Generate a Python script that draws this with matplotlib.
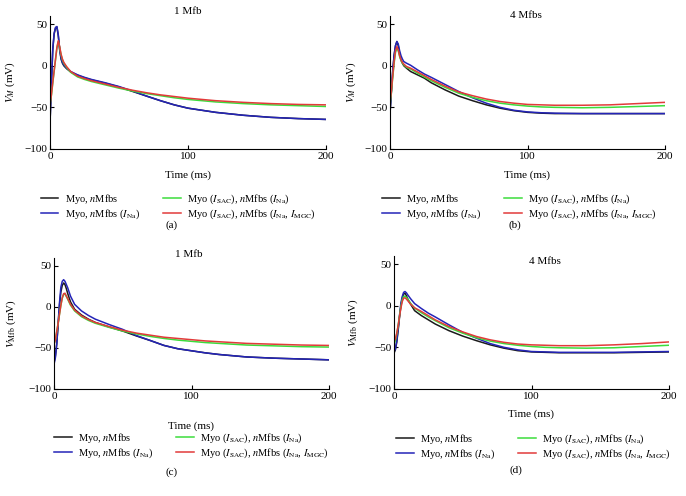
import matplotlib
matplotlib.use("Agg")
import matplotlib.pyplot as plt

plt.rcParams['font.family'] = ['Liberation Serif', 'DejaVu Serif']
plt.rcParams['mathtext.fontset'] = 'stix'

# time samples (ms)
t = [0, 1, 2, 3, 4, 5, 6, 7, 8, 9, 10, 12, 15, 20, 25, 30, 40, 50, 60, 70,
     80, 90, 100, 110, 120, 140, 160, 180, 200]

# (a) V_M, 1 Mfb
a_black = [-69, -23, 19, 38, 45, 46.5, 36, 19, 8, 3, 0, -3.5, -7.5, -11.5, -14.5, -17, -21, -25.5, -31, -36.5,
           -42, -47, -51, -53.5, -56, -59.5, -62, -63.5, -64.5]
a_blue = [-69, -22, 20, 39, 46, 47, 37, 20, 9, 4, 1, -3, -7, -11, -14, -16.5, -20.5, -25, -30.5, -36.5,
          -42, -47, -51, -53.5, -56, -59.5, -62, -63.5, -64.5]
a_green = [-47, -36, -21, -7, 7, 21, 29, 22, 13, 7, 3, -2, -8, -13.5, -16.5, -19, -23, -27, -30.5, -33.5,
           -36, -38.5, -40.5, -42, -43.5, -45.5, -47, -48, -49]
a_red = [-47, -35, -20, -6, 8, 22, 30, 23, 14, 8, 4, -1, -7, -12.5, -15.5, -18, -22, -26, -29.5, -32.5,
         -35, -37, -39, -40.5, -42, -44, -45.5, -46.5, -47]

# (b) V_M, 4 Mfbs
b_black = [-58, -32, -7, 12, 24, 29, 24, 14, 7, 3, 0, -3, -7, -11, -15, -20.5, -29, -36.5, -42, -47,
           -51, -54, -56, -57, -57.5, -57.5, -57.5, -57.5, -57.5]
b_blue = [-57, -30, -5, 13, 24, 29, 26, 18, 12, 8, 5, 3, 0.5, -5, -10, -14, -22.5, -31, -38.5, -45,
          -50, -53.5, -55.5, -56.5, -57, -57.5, -57.5, -57.5, -57.5]
b_green = [-47, -32, -14, 3, 16, 21, 18, 11, 6, 3, 1, -2, -4, -9, -13.5, -18, -26, -33, -38, -42,
           -45, -47, -48.5, -49.5, -50, -50.5, -50, -49, -48]
b_red = [-45, -30, -12, 5, 18, 23, 19, 12, 7, 4, 2, -1, -3, -7.5, -12, -16.5, -24.5, -31.5, -36, -40,
         -43, -45, -46.5, -47, -47.5, -47.5, -47, -45.5, -44]

# (c) V_Mfb, 1 Mfb
c_black = [-68, -60, -45, -22, 2, 18, 26, 29, 27, 22, 16, 6, -3, -10, -15, -19, -24.5, -29.5, -35.5, -41,
           -47, -51, -53.5, -56, -58, -61, -62.5, -63.5, -64.5]
c_blue = [-70, -62, -45, -20, 5, 24, 31, 33, 31, 27, 23, 13, 3, -5, -10.5, -15, -21.5, -27.5, -35, -41,
          -47, -51, -53.5, -56, -58, -61, -62.5, -63.5, -64.5]
c_green = [-46, -40, -30, -20, -9, 2, 10.5, 15, 15.5, 12.5, 9, 2, -5, -12, -16.5, -20, -25, -29.5, -33, -36,
           -38.5, -40.5, -42, -43.5, -44.5, -46.5, -47.5, -48.5, -49]
c_red = [-46, -40, -30, -20, -9, 2, 11, 16, 16.5, 13, 10, 3, -4, -11, -15.5, -19, -24, -28.5, -32, -34.5,
         -37, -38.5, -40, -41.5, -42.5, -44.5, -45.5, -46.5, -47]

# (d) V_Mfb, 4 Mfbs
d_black = [-57, -53, -44, -30, -14, 0, 9, 14, 15, 12, 8, 2, -6, -12, -17, -22, -30, -36.5, -42, -47,
           -51, -54, -55.5, -56, -56.5, -56.5, -56.5, -56, -55.5]
d_blue = [-55, -52, -42, -28, -12, 3, 11, 16, 17, 15.5, 13, 8.5, 2.5, -3.5, -9, -13.5, -23, -32, -39, -45.5,
          -50, -53, -55, -55.5, -56, -56, -56, -55.5, -55]
d_green = [-46, -42, -34, -24, -12, -1, 7, 11, 11.5, 10, 8, 3, -3, -8.5, -13.5, -18, -26.5, -33, -38.5, -42.5,
           -45.5, -47.5, -49, -50, -50.5, -51, -50.5, -49, -47.5]
d_red = [-43, -40, -33, -24, -13, -3, 5, 9, 9.5, 8, 6, 2, -2.5, -7, -12, -17, -25, -31.5, -37, -41,
         -44, -46, -47, -47.5, -48, -48, -47, -45.5, -43.5]

labels = [r'Myo, $n$Mfbs',
          r'Myo, $n$Mfbs ($I_{\mathrm{Na}}$)',
          r'Myo ($I_{\mathrm{SAC}}$), $n$Mfbs ($I_{\mathrm{Na}}$)',
          r'Myo ($I_{\mathrm{SAC}}$), $n$Mfbs ($I_{\mathrm{Na}}$, $I_{\mathrm{MGC}}$)']
colors = ['#1a1a1a', '#2424b8', '#3cdc3c', '#e23a3a']

panels = [
    # rect, series, ylabel, title, title pos, ylabel x, xlabel y, legend x
    ([50/686, 1-149/496, 276/686, 133.3/496], [a_black, a_blue, a_green, a_red],
     r'$V_M$ (mV)', '1 Mfb', (0.5, 1.028), -0.12, -0.16, 0.464),
    ([390/686, 1-149/496, 275/686, 133.3/496], [b_black, b_blue, b_green, b_red],
     r'$V_M$ (mV)', '4 Mfbs', (0.495, 1.005), -0.116, -0.16, 0.47),
    ([54/686, 1-389/496, 275/686, 131.5/496], [c_black, c_blue, c_green, c_red],
     r'$V_{\mathrm{Mfb}}$ (mV)', '1 Mfb', (0.49, 1.021), -0.131, -0.245, 0.5),
    ([394/686, 1-389/496, 275/686, 133.3/496], [d_black, d_blue, d_green, d_red],
     r'$V_{\mathrm{Mfb}}$ (mV)', '4 Mfbs', (0.55, 0.96), -0.124, -0.155, 0.507),
]

fig = plt.figure(figsize=(6.86, 4.96), dpi=100)

for rect, series, ylab, title, tpos, ylx, xly, lgx in panels:
    ax = fig.add_axes(rect)
    for vals, c, lab in zip(series, colors, labels):
        ax.plot(t, vals, color=c, lw=1.1, label=lab)
    ax.set_xlim(0, 200)
    ax.set_ylim(-100, 60)
    ax.set_xticks([0, 100, 200])
    ax.set_yticks([-100, -50, 0, 50])
    ax.set_yticklabels(['\u2212100', '\u221250', '0', '50'])
    for s in ['top', 'right']:
        ax.spines[s].set_visible(False)
    for s in ['left', 'bottom']:
        ax.spines[s].set_linewidth(0.8)
    ax.tick_params(direction='in', length=3, width=0.8, labelsize=8, pad=2)
    ax.set_xlabel('Time (ms)', fontsize=8)
    ax.xaxis.set_label_coords(0.5, xly)
    ax.set_ylabel(ylab, fontsize=8)
    ax.yaxis.set_label_coords(ylx, 0.5)
    ax.text(tpos[0], tpos[1], title, transform=ax.transAxes, ha='center', va='center', fontsize=8)
    ax.legend(loc='center', bbox_to_anchor=(lgx, -0.43), ncol=2, frameon=False, fontsize=7.5,
              handlelength=1.7, columnspacing=2.2, labelspacing=0.15, handletextpad=0.6)

fig.text(0.25, 1-225/496, '(a)', ha='center', va='center', fontsize=8)
fig.text(0.75, 1-225/496, '(b)', ha='center', va='center', fontsize=8)
fig.text(0.25, 1-472/496, '(c)', ha='center', va='center', fontsize=8)
fig.text(0.752, 1-470/496, '(d)', ha='center', va='center', fontsize=8)

fig.savefig('out.png', dpi=100)
